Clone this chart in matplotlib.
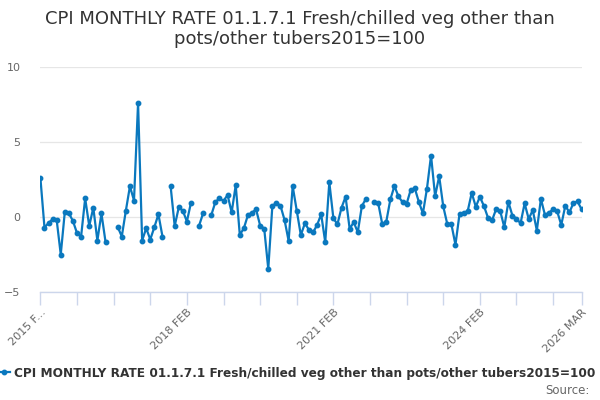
import numpy as np
import pandas as pd
import matplotlib
matplotlib.use("Agg")
import matplotlib.pyplot as plt

# monthly rate, Feb 2015 .. Mar 2026 (nan = no value published)
nan = np.nan
rate_2015 = [2.6, -0.7, -0.4, -0.15, -0.2, -2.5, 0.35, 0.25, -0.27, -1.08, -1.3]
rate_2016 = [1.24, -0.6, 0.62, -1.57, 0.24, -1.65, nan, nan, -0.66, -1.3, 0.42, 2.05]
rate_2017 = [1.1, 7.6, -1.57, -0.75, -1.5, -0.68, 0.18, -1.3, nan, 2.05, -0.6, 0.64]
rate_2018 = [0.42, -0.3, 0.95, nan, -0.57, 0.26, nan, 0.13, 1.0, 1.24, 1.08, 1.46]
rate_2019 = [0.31, 2.12, -1.19, -0.75, 0.13, 0.29, 0.51, -0.57, -0.77, -3.46, 0.73, 0.95]
rate_2020 = [0.75, -0.2, -1.59, 2.05, 0.42, -1.21, -0.42, -0.86, -1.03, -0.53, 0.18, -1.68]
rate_2021 = [2.32, -0.09, -0.48, 0.62, 1.35, -0.79, -0.35, -1.01, 0.73, 1.21, nan, 1.01]
rate_2022 = [0.95, -0.46, -0.31, 1.17, 2.06, 1.37, 0.99, 0.88, 1.81, 1.92, 1.01, 0.24]
rate_2023 = [1.9, 4.1, 1.39, 2.72, 0.71, -0.48, -0.48, -1.85, 0.2, 0.29, 0.38, 1.61]
rate_2024 = [0.68, 1.35, 0.73, -0.05, -0.22, 0.53, 0.4, -0.68, 1.01, 0.09, -0.11, -0.42]
rate_2025 = [0.91, -0.13, 0.46, -0.9, 1.21, 0.13, 0.29, 0.51, 0.38, -0.53, 0.75, 0.31]
rate_2026 = [0.93, 1.04, 0.51]

values = (rate_2015 + rate_2016 + rate_2017 + rate_2018 + rate_2019 + rate_2020
          + rate_2021 + rate_2022 + rate_2023 + rate_2024 + rate_2025 + rate_2026)
months = pd.date_range("2015-02-01", periods=len(values), freq="MS")
labels = [m.strftime("%Y %b").upper() for m in months]

label_idx = [0, 36, 72, 108, len(values) - 1]
tick_idx = list(range(0, len(values) - 1, 9)) + [len(values) - 1]

title = "CPI MONTHLY RATE 01.1.7.1 Fresh/chilled veg other than\npots/other tubers2015=100"
series_name = "CPI MONTHLY RATE 01.1.7.1 Fresh/chilled veg other than pots/other tubers2015=100"

blue = "#0a78be"

fig = plt.figure(figsize=(6, 4), dpi=100)
ax = fig.add_axes([40 / 600, 1 - 292 / 400, 542 / 600, 225 / 400])

x = np.arange(len(values))
ax.plot(x, values, color=blue, lw=1.6, marker="o", ms=3.2, label=series_name)

ax.set_xlim(-0.1, len(values) - 0.9)
ax.set_ylim(-5, 10)
ax.set_yticks([-5, 0, 5, 10])
ax.grid(axis="y", color="#e6e6e6", lw=0.9)
ax.set_axisbelow(True)

for s in ["top", "right", "left"]:
    ax.spines[s].set_visible(False)
ax.spines["bottom"].set_color("#ccd6eb")
ax.spines["bottom"].set_linewidth(1.0)

ax.set_xticks(tick_idx)
tl = []
for i in tick_idx:
    if i == 0:
        tl.append("2015 F...")
    elif i in label_idx:
        tl.append(labels[i])
    else:
        tl.append("")
ax.set_xticklabels(tl, rotation=45, ha="right", rotation_mode="anchor",
                   fontsize=8, color="#666666")
ax.tick_params(axis="x", length=9, color="#ccd6eb", width=1, pad=2)
ax.tick_params(axis="y", length=0, labelsize=8, labelcolor="#666666", pad=14)

fig.text(0.5, 0.975, title, ha="center", va="top", fontsize=13,
         color="#333333", linespacing=1.15)

leg = fig.legend(loc="center left", bbox_to_anchor=(-0.022, 1 - 373 / 400),
                 frameon=False, handlelength=1.0, handletextpad=0.35,
                 prop={"weight": "bold", "size": 8.7})
for t in leg.get_texts():
    t.set_color("#333333")

fig.text(0.982, 1 - 390 / 400, "Source:", ha="right", va="center",
         fontsize=8.5, color="#666666")

fig.savefig("out.png", dpi=100)
